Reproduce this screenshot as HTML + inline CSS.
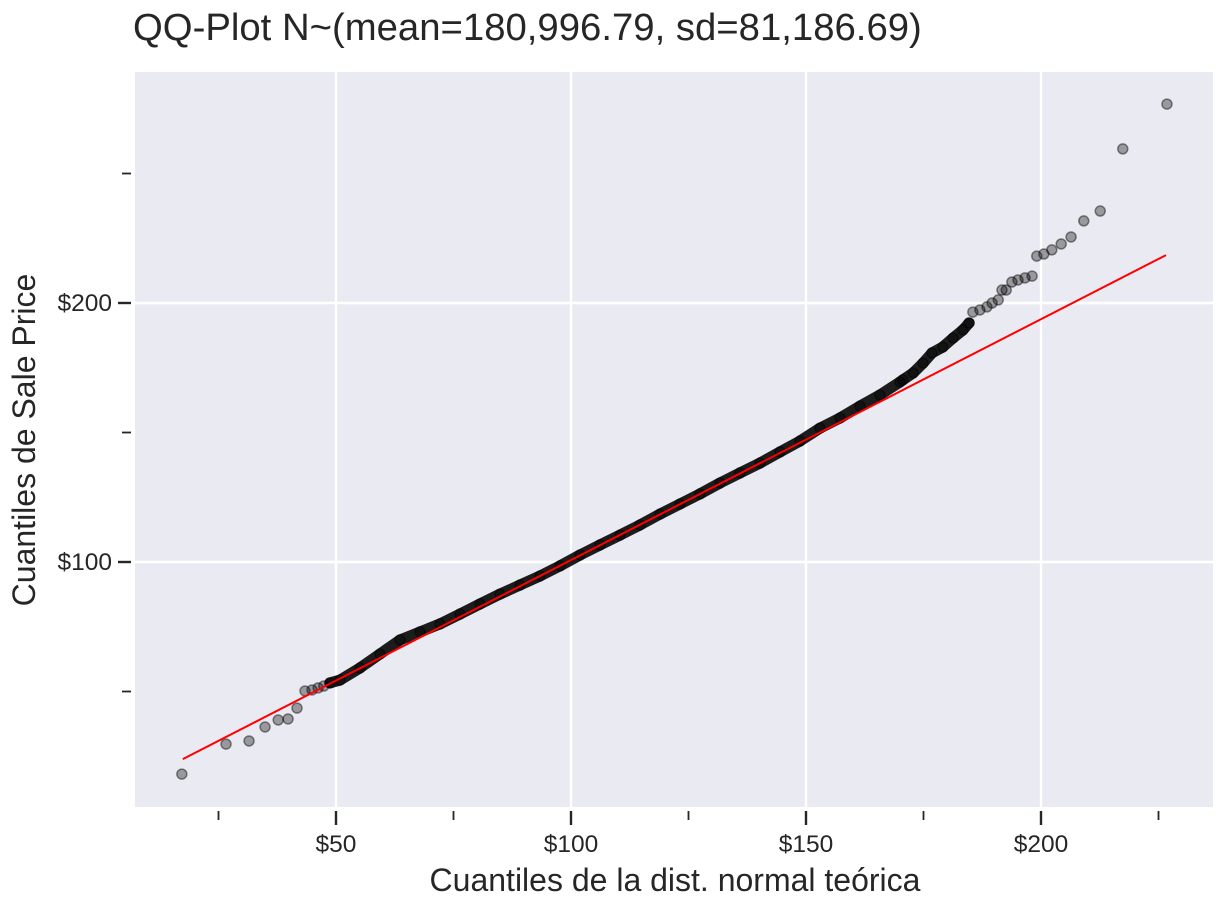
<!DOCTYPE html>
<html><head><meta charset="utf-8"><style>
html,body{margin:0;padding:0;background:#fff;}
svg{display:block;font-family:"Liberation Sans",Arial,sans-serif;}
</style></head><body>
<svg id="chart" width="1228" height="921" viewBox="0 0 1228 921">
<text x="133" y="40" font-size="38.3" fill="#262626">QQ-Plot N~(mean=180,996.79, sd=81,186.69)</text>
<rect x="135" y="72" width="1078" height="735" fill="#eaeaf2"/>
<g id="grid"></g>
<g id="ticks"></g>
<g id="band"></g>
<g id="points"></g>
<g id="refline"></g>
<text x="675" y="891" font-size="32" fill="#262626" text-anchor="middle">Cuantiles de la dist. normal teórica</text>
<text transform="translate(35,440) rotate(-90)" font-size="32" fill="#262626" text-anchor="middle">Cuantiles de Sale Price</text>
</svg>
<script>
const theoX = [17.2,26.6,31.5,34.9,37.7,39.8,41.7,43.4,44.9,46.2,47.4,48.7,
50.85,55.11,59.36,63.62,67.87,72.13,76.38,80.64,84.89,89.15,93.40,97.66,101.91,106.17,110.43,114.68,118.94,123.19,127.45,131.70,135.96,140.21,144.47,148.72,152.98,157.23,161.49,165.74,170.0,
170.6,172.8,174.9,176.8,179.1,181.3,183.4,184.7,185.5,187.0,188.5,189.6,190.9,191.7,192.6,193.8,195.1,196.6,198.1,199.1,200.6,202.3,204.3,206.4,209.1,212.6,217.4,226.8];
const sampleY = [18.1,29.7,30.9,36.3,39.0,39.4,43.6,50.2,50.6,51.4,52.1,53.3,
54.4,59.1,64.5,69.9,73.0,76.1,79.9,83.8,87.6,91.1,94.6,98.5,102.7,106.6,110.4,114.3,118.5,122.4,126.3,130.5,134.4,138.2,142.5,146.7,151.7,155.6,160.2,164.5,169.5,
170.3,173.0,176.8,180.7,183.0,186.5,189.6,192.3,196.5,197.3,198.5,200.0,201.2,205.0,205.0,208.1,208.9,209.7,210.4,218.1,218.9,220.5,222.8,225.5,231.7,235.5,259.5,276.8];
const lineX = [17.4,226.6];
const lineY = [23.9,218.5];
const xMajor = [50,100,150,200];
const xMajorLabels = ["$50","$100","$150","$200"];
const xMinor = [25,75,125,175,225];
const yMajor = [100,200];
const yMajorLabels = ["$100","$200"];
const yMinor = [50,150,250];

const NS="http://www.w3.org/2000/svg";
const sx = v => 101 + 4.7*v;
const sy = v => 562 - 2.59*(v-100);
function mk(tag, attrs, parent){const e=document.createElementNS(NS,tag);for(const k in attrs)e.setAttribute(k,attrs[k]);document.getElementById(parent).appendChild(e);return e;}

xMajor.forEach((v,i)=>{
  const g=mk('line',{x1:sx(v),x2:sx(v),y1:72,y2:807,stroke:'#fff','stroke-width':2.4},'grid');
  
  
  const t=mk('line',{x1:sx(v),x2:sx(v),y1:811,y2:825,stroke:'#262626','stroke-width':2.4},'ticks');
  
  
  const l=mk('text',{x:sx(v),y:852,'font-size':24.5,fill:'#262626','text-anchor':'middle'},'ticks');
  l.textContent=xMajorLabels[i];
  
  
});
xMinor.forEach(v=>{
  const t=mk('line',{x1:sx(v),x2:sx(v),y1:811,y2:820,stroke:'#262626','stroke-width':1.8},'ticks');
  
  
});
yMajor.forEach((v,i)=>{
  const g=mk('line',{x1:135,x2:1213,y1:sy(v),y2:sy(v),stroke:'#fff','stroke-width':2.4},'grid');
  
  
  const t=mk('line',{x1:118,x2:131,y1:sy(v),y2:sy(v),stroke:'#262626','stroke-width':2.4},'ticks');
  
  
  const l=mk('text',{x:112,y:sy(v)+8,'font-size':24.5,fill:'#262626','text-anchor':'end'},'ticks');
  l.textContent=yMajorLabels[i];
  
  
});
yMinor.forEach(v=>{
  const t=mk('line',{x1:122,x2:131,y1:sy(v),y2:sy(v),stroke:'#262626','stroke-width':1.8},'ticks');
  
  
});
const bandPts=[];
theoX.forEach((x,i)=>{ if(x>=48 && x<=185) bandPts.push(sx(x)+','+sy(sampleY[i])); });
const band=mk('polyline',{points:bandPts.join(' '),fill:'none',stroke:'#111','stroke-width':11,'stroke-linejoin':'round','stroke-linecap':'round','stroke-opacity':0.95},'band');


theoX.forEach((x,i)=>{
  const c=mk('circle',{cx:sx(x),cy:sy(sampleY[i]),r:5,fill:'rgba(0,0,0,0.35)',stroke:'rgba(0,0,0,0.45)','stroke-width':1.5},'points');
  
  
});
const rl=mk('line',{x1:sx(lineX[0]),y1:sy(lineY[0]),x2:sx(lineX[1]),y2:sy(lineY[1]),stroke:'#ff0000','stroke-width':2},'refline');


</script>
</body></html>
